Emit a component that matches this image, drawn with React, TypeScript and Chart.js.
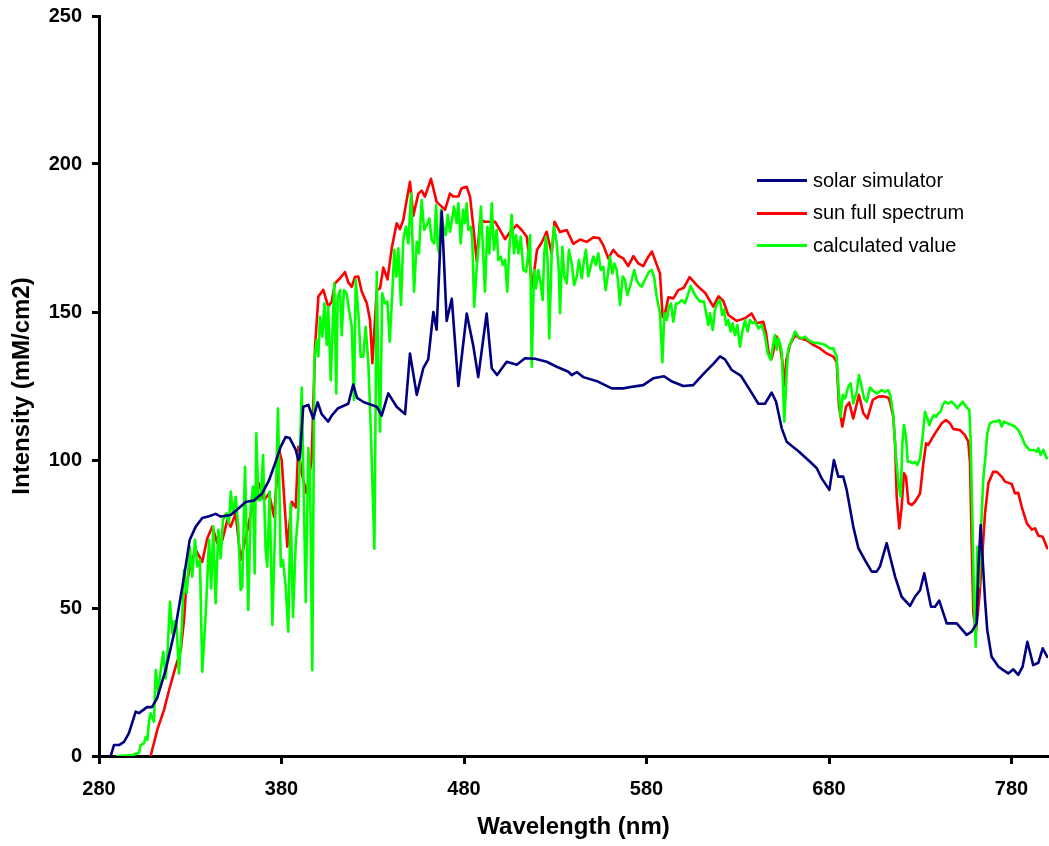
import React, { useEffect, useRef } from "react";
import { Chart, registerables } from "chart.js";

Chart.register(...registerables);

// Axis ticks
const xTicks = [280, 380, 480, 580, 680, 780];
const yTicks = [0, 50, 100, 150, 200, 250];

// [wavelength (nm), intensity (mM/cm2)]
const solarSimulator: [number, number][] = [
  [286.4, 0], [288.2, 3.7], [291.0, 3.7], [293.7, 4.8], [296.4, 7.7], [300.1, 15], [301.9, 14.5],
  [306.3, 16.5], [309.0, 16.5], [311.8, 19.5], [316.5, 29], [322.0, 43.7], [326.6, 60.6], [329.7, 73],
  [333.0, 77.5], [336.6, 80.4], [340.3, 81], [343.9, 81.8], [346.7, 80.9], [352.2, 81.4], [356.7, 83.8],
  [360.4, 85.8], [364.9, 86.3], [369.5, 88.8], [373.2, 93.2], [376.8, 99.4], [379.6, 104.5], [382.3, 107.8],
  [384.5, 107.4], [387.8, 103.4], [389.2, 100], [390.1, 101], [391.9, 118], [394.7, 118.6], [397.4, 114],
  [399.8, 119.5], [402.0, 115.5], [405.6, 113], [407.5, 115], [411.0, 117.5], [416.6, 119], [419.3, 125.5],
  [421.4, 121], [425.2, 119.5], [432.2, 118], [434.9, 115], [438.5, 122.5], [443.1, 118], [447.7, 115.5],
  [450.4, 136], [454.1, 122], [457.7, 131], [460.4, 134], [463.2, 150], [465.0, 144], [467.8, 184],
  [470.5, 147], [473.3, 154.5], [476.9, 125], [481.5, 149.5], [485.1, 138.5], [487.8, 128], [492.4, 149.5],
  [495.2, 131], [498.1, 128.7], [503.4, 133.2], [508.9, 132.2], [513.4, 134.4], [518.9, 134.2], [525.3, 133.2],
  [530.8, 131.5], [537.2, 129.8], [539.0, 128.7], [541.8, 129.7], [545.4, 128], [553.4, 126.5], [560.9, 124.2],
  [567.3, 124.2], [572.8, 124.8], [578.2, 125.3], [583.7, 127.6], [589.6, 128.3], [594.0, 126.5], [600.2, 125],
  [605.6, 125.3], [611.1, 129], [616.6, 132.5], [620.3, 135], [623.0, 134], [626.7, 130.4], [631.8, 128.4],
  [636.7, 123.6], [641.3, 119], [644.9, 119], [648.6, 122.8], [651.0, 119.7], [654.1, 110.7], [656.8, 106.2],
  [663.6, 102.8], [669.6, 99.4], [673.3, 97.2], [676.0, 93.8], [680.2, 89.9], [682.7, 100], [685.1, 94.4],
  [687.8, 94.4], [689.7, 89.9], [693.3, 77.5], [696.1, 70.2], [699.7, 66.2], [703.4, 62.3], [706.1, 62.3],
  [707.9, 64], [711.6, 71.9], [716.2, 60.6], [719.8, 53.8], [724.4, 50.7], [727.1, 53.8], [729.9, 56],
  [732.2, 61.7], [735.9, 50.4], [738.1, 50.4], [740.4, 52.5], [744.5, 44.8], [750.0, 44.8], [755.4, 40.9],
  [758.2, 42], [760.9, 44.8], [761.8, 62.8], [763.1, 78], [765.5, 52.7], [766.7, 42.6], [769.1, 33.5],
  [772.8, 30.2], [775.5, 29], [778.2, 27.9], [781.0, 29.3], [783.7, 27.4], [786.1, 30.2], [788.7, 38.6],
  [791.9, 30.7], [794.7, 31.5], [797.1, 36.4], [799.6, 33.5],
];

const sunFullSpectrum: [number, number][] = [
  [308.3, 0], [311.9, 8.8], [315.6, 15.5], [318.4, 22.3], [322.0, 30.2], [324.8, 35.8], [326.6, 46],
  [327.8, 57.2], [330.2, 65.1], [333.0, 69.6], [336.6, 65.6], [339.3, 73.5], [342.1, 77.5], [344.8, 71.9],
  [347.6, 73], [350.3, 79.7], [352.2, 77.5], [354.9, 82], [357.6, 66.2], [361.3, 76.4], [365.9, 89.9],
  [367.7, 92.1], [370.4, 86.5], [373.2, 88.7], [375.9, 80.8], [378.6, 103.4], [380.1, 100], [383.2, 70.7],
  [385.6, 85.9], [387.8, 84], [389.2, 104.5], [391.1, 95.5], [393.8, 88.7], [396.5, 100], [398.4, 138.3],
  [400.2, 155.2], [402.9, 157.5], [405.6, 151.8], [407.5, 153.5], [409.3, 159.7], [412.1, 161.4], [414.8, 163.5],
  [416.6, 160], [418.5, 158.5], [420.3, 161.9], [422.1, 162], [423.9, 157], [426.7, 153], [428.5, 147.3],
  [429.8, 132.7], [432.2, 157.4], [434.0, 158], [435.8, 165], [438.1, 161], [440.4, 171.5], [443.1, 180],
  [444.9, 178], [446.7, 181], [448.6, 187.8], [450.4, 194], [452.2, 182.5], [455.0, 190], [456.8, 191],
  [458.6, 189], [461.9, 195], [465.0, 187.2], [467.8, 185.6], [469.6, 184.5], [472.3, 190], [474.1, 189],
  [476.9, 189], [478.7, 191.8], [481.5, 192.3], [483.3, 189], [485.1, 178.8], [487.0, 167], [488.8, 181],
  [491.5, 180.5], [494.2, 180.5], [497.0, 180.5], [499.7, 177.7], [502.5, 174.6], [505.2, 177], [508.9, 179.4],
  [511.6, 177.7], [514.4, 175.4], [515.2, 171], [517.4, 158.6], [520.0, 171], [522.6, 173.5], [525.3, 177.1],
  [528.1, 169.6], [529.6, 180.5], [532.6, 177], [536.3, 177.7], [539.9, 173], [543.6, 174.5], [547.2, 173.7],
  [550.9, 175.2], [554.0, 175], [556.3, 172.6], [559.1, 168.1], [561.8, 171], [564.5, 169], [567.3, 168.1],
  [570.0, 165.5], [572.8, 168.9], [575.5, 166.4], [578.2, 165.5], [581.0, 168.7], [583.0, 170.4], [585.6, 166],
  [587.4, 163], [588.8, 148.5], [589.6, 147.9], [592.0, 155], [594.7, 154.6], [597.4, 157.4], [600.5, 158.2],
  [603.6, 161.8], [607.5, 159.1], [609.3, 158], [612.1, 156.5], [616.6, 151.8], [619.4, 155.3], [622.1, 153.7],
  [624.8, 149], [629.4, 147], [634.0, 147.9], [637.6, 149.5], [640.4, 146.2], [644.0, 146.7], [645.5, 143],
  [646.8, 136.6], [648.6, 134.3], [651.4, 141.7], [653.2, 138.3], [654.5, 133], [655.5, 125], [656.7, 134],
  [658.6, 138.9], [661.4, 142.2], [664.1, 141.1], [667.8, 140.5], [671.4, 138.9], [675.1, 137.7], [678.7, 136],
  [682.4, 134.9], [684.2, 133.2], [685.5, 118], [687.3, 111.3], [689.3, 118], [691.1, 119.4], [693.3, 114],
  [696.4, 122], [698.8, 115.8], [701.0, 114], [704.0, 120.3], [707.0, 121.4], [710.1, 121.5], [712.5, 121],
  [713.4, 119.7], [715.2, 114.6], [716.2, 105.6], [717.1, 87.6], [718.5, 76.9], [719.8, 84.2], [721.1, 95.5],
  [722.2, 94.4], [723.5, 85.4], [725.3, 84.8], [727.1, 85.9], [729.9, 88.7], [731.7, 98.9], [733.2, 105.6],
  [734.4, 105.1], [738.1, 109], [741.8, 112.4], [744.1, 113.5], [746.3, 112.4], [748.1, 110.5], [751.8, 110.1],
  [754.5, 108.4], [756.3, 106.2], [757.3, 98.9], [758.2, 70.7], [759.1, 48.2], [760.5, 42], [762.4, 53.8],
  [763.7, 65.1], [765.5, 82], [767.3, 92.1], [770.0, 96], [771.9, 96], [774.6, 94.4], [776.4, 92.7],
  [780.1, 91.9], [781.9, 88.7], [783.7, 88.9], [785.6, 84.2], [788.4, 78.6], [791.1, 76.5], [792.9, 76.9],
  [794.7, 74.4], [797.1, 74.1], [799.6, 70.2],
];

const calculatedValue: [number, number][] = [
  [290.0, 0], [298.2, 0.3], [301.9, 1], [302.8, 3.7], [304.7, 4.3], [305.6, 6.5], [306.5, 5.4], [307.4, 11.6],
  [308.3, 14.4], [310.1, 11.6], [311.1, 29], [312.5, 21.2], [313.8, 29], [315.2, 35.2], [316.5, 26.2],
  [317.4, 33], [318.9, 52.1], [320.2, 41.4], [321.1, 45.4], [322.4, 45.4], [323.8, 27.9], [325.3, 42.6],
  [326.6, 62.8], [328.1, 55], [329.7, 70.7], [331.1, 60.6], [332.6, 73], [333.9, 64], [335.3, 66.2],
  [336.6, 28.5], [338.5, 48.2], [340.3, 73], [341.5, 56.6], [342.6, 77.5], [343.9, 51.6], [345.4, 76.4],
  [346.7, 66.8], [347.9, 79.7], [349.8, 82], [351.2, 78.6], [352.2, 89.3], [353.4, 82], [354.9, 87.6],
  [356.3, 77.5], [357.6, 56.1], [358.5, 57.2], [360.0, 97.7], [361.8, 49.3], [363.1, 84.2], [364.4, 91],
  [365.3, 61.7], [366.2, 109], [367.3, 86.5], [368.6, 86.5], [369.9, 101.7], [371.3, 69.6], [372.2, 64],
  [373.5, 89.3], [375.0, 44.3], [376.4, 75.2], [378.1, 117.4], [379.6, 64], [380.8, 66.2], [382.3, 57.2],
  [383.7, 42], [385.0, 85.1], [386.3, 47], [387.8, 71.9], [389.2, 82], [391.1, 124.5], [393.3, 52],
  [394.7, 104], [395.6, 96], [396.9, 29], [398.0, 133.8], [399.3, 140.5], [400.2, 135], [401.1, 148.4],
  [402.4, 141.7], [403.5, 152.9], [404.8, 138.9], [405.6, 151.8], [407.0, 127], [408.1, 146.2], [408.9, 159.7],
  [410.0, 122.5], [410.8, 155.2], [412.1, 157.4], [413.0, 142.2], [414.2, 157.4], [415.7, 156.3], [417.0, 150.7],
  [418.5, 145], [419.7, 120.3], [420.7, 160.8], [422.1, 149.6], [423.4, 134.9], [424.8, 134.9], [426.1, 145],
  [427.6, 132.7], [429.0, 109], [430.9, 70], [432.2, 163.5], [433.0, 131.5], [434.0, 109.6], [435.2, 156.3],
  [436.7, 152.9], [438.0, 153.5], [439.3, 140], [440.7, 156.3], [441.8, 171], [442.9, 161.9], [444.0, 171.5],
  [445.5, 152.4], [446.7, 174.3], [448.1, 178.8], [449.5, 173.2], [451.0, 190], [452.6, 156.9], [454.1, 173.7],
  [455.3, 169.8], [456.8, 187.8], [458.2, 177.7], [459.6, 179.4], [461.0, 181.6], [462.3, 174.3], [463.7, 173.2],
  [464.7, 186.1], [465.6, 172], [466.5, 169.8], [467.4, 184.5], [468.7, 178.8], [470.0, 176], [471.1, 182.8],
  [472.3, 177.1], [473.3, 180.5], [474.5, 185.6], [476.0, 180], [476.9, 186.7], [478.2, 173.2], [479.5, 184.5],
  [480.5, 180], [481.5, 186.7], [482.4, 177.7], [483.7, 178.8], [484.5, 174.9], [485.6, 151.8], [487.0, 165.3],
  [488.2, 173.7], [489.3, 185.6], [491.5, 156.9], [492.8, 178.8], [493.9, 169.8], [495.2, 186.7], [496.4, 171],
  [497.9, 177.7], [498.8, 167.6], [500.1, 168.7], [501.2, 165.9], [502.5, 167.6], [503.7, 156.9], [504.8, 171],
  [506.1, 182.8], [507.4, 169.8], [508.5, 176], [509.8, 169.8], [511.1, 175.4], [512.5, 164.2], [514.0, 163.6],
  [515.2, 169.8], [516.2, 176], [517.1, 131.5], [518.4, 164.2], [519.5, 158], [520.7, 164.2], [522.0, 159.7],
  [523.1, 154], [524.0, 169.8], [524.9, 175.4], [525.9, 166.4], [526.7, 141.1], [528.1, 171], [529.3, 178.8],
  [530.8, 173.2], [531.9, 164.2], [532.6, 149.6], [533.9, 172], [535.0, 162], [536.3, 159.7], [537.5, 171],
  [539.0, 166.4], [540.4, 159.1], [541.8, 162], [543.0, 167.6], [544.5, 161.4], [545.8, 167.6], [546.8, 171],
  [548.1, 162], [549.4, 165.3], [550.9, 168.7], [552.2, 165.9], [553.6, 169.8], [554.9, 164.2], [556.3, 165.3],
  [557.6, 157.4], [558.7, 162], [560.0, 168.7], [561.3, 163], [562.4, 166.4], [563.7, 164.2], [564.5, 159.7],
  [565.5, 152.4], [567.0, 162], [568.2, 160.8], [569.5, 155.7], [571.0, 158.6], [572.4, 162], [573.3, 164.2],
  [574.6, 160.8], [576.1, 159.1], [577.4, 158.6], [578.6, 160.2], [580.1, 162], [581.4, 163.6], [582.8, 164.2],
  [584.1, 162], [585.6, 155.2], [587.4, 149.6], [588.7, 133], [589.8, 149.6], [591.1, 147.3], [592.3, 151.8],
  [593.4, 152.9], [594.7, 146.7], [596.2, 152.9], [597.4, 152.9], [599.3, 154], [601.1, 152.9], [602.9, 156.3],
  [604.2, 158.8], [606.6, 155.7], [609.3, 153.5], [611.5, 153.5], [613.0, 148.4], [613.9, 145.6], [614.8, 149.6],
  [616.3, 143.9], [617.5, 150.7], [618.8, 152.9], [620.3, 154], [621.5, 149], [622.5, 150.7], [623.6, 145.6],
  [624.8, 147.3], [626.1, 143.4], [627.2, 146.2], [628.5, 142.2], [629.8, 145.6], [631.2, 138.3], [632.7, 143.9],
  [634.0, 147.3], [635.4, 143.4], [636.7, 147.3], [638.2, 146.2], [639.5, 146.7], [641.3, 144.5], [643.1, 145.6],
  [644.9, 142], [646.4, 136.1], [648.1, 133.8], [649.5, 139.4], [650.4, 142.2], [651.4, 137.2], [652.2, 141.1],
  [653.2, 139.4], [654.2, 136.1], [655.5, 113], [656.8, 129.3], [657.7, 137.7], [659.6, 140.5], [661.4, 143.4],
  [663.2, 141.7], [665.1, 141.1], [666.9, 141.7], [668.7, 140.5], [671.4, 139.7], [675.1, 139.4], [677.8, 138.9],
  [680.5, 137.7], [682.4, 137.7], [684.2, 134.9], [685.5, 121.4], [686.4, 114.6], [687.5, 122], [688.8, 120.8],
  [690.6, 124.8], [691.9, 125.9], [693.3, 119.1], [695.2, 123], [696.4, 128.7], [697.9, 124.8], [699.2, 120.8],
  [700.7, 119.7], [702.5, 124.5], [704.3, 123.3], [706.2, 122.5], [708.9, 123.6], [710.7, 123], [712.5, 123.6],
  [713.8, 121.4], [715.2, 115.2], [716.7, 101.1], [718.0, 92.1], [719.3, 87.6], [720.2, 105.6], [721.1, 111.8],
  [722.2, 107.9], [723.1, 99.4], [724.4, 99.4], [725.9, 98.9], [727.1, 99.4], [728.4, 98.3], [729.9, 100.6],
  [731.1, 106.8], [732.6, 116.3], [733.9, 114], [735.0, 111.8], [736.3, 114], [737.5, 115.2], [738.6, 114.6],
  [739.9, 115.8], [741.2, 116.3], [742.3, 118.6], [743.6, 119.7], [745.4, 119.1], [747.2, 119.7], [749.0, 118.6],
  [750.3, 117.5], [751.8, 118.6], [753.3, 119.7], [755.1, 118], [756.9, 116.9], [757.6, 106.8], [758.5, 82],
  [759.5, 51.6], [760.4, 36.9], [761.3, 70.7], [762.2, 57.2], [763.3, 76.4], [764.5, 93.2], [765.9, 102.3],
  [766.7, 109], [768.2, 112.4], [770.0, 113], [771.9, 113], [773.3, 113.5], [774.6, 111.3], [775.9, 113],
  [777.7, 112.4], [780.1, 111.8], [781.9, 111.3], [783.7, 110.1], [785.6, 107.9], [787.4, 105.1], [789.8, 103.4],
  [792.0, 103.4], [793.8, 102.8], [794.7, 103.9], [796.0, 101.7], [797.5, 103.4], [799.3, 100.6],
];

const seriesNames = ["solar simulator", "sun full spectrum", "calculated value"];
const seriesColors = ["#000080", "#ff0000", "#00ff00"];

const FONT = "'Liberation Sans', Arial, Helvetica, sans-serif";
const WIDTH = 1049;
const HEIGHT = 846;

const toPoints = (rows: [number, number][]) => rows.map(([x, y]) => ({ x, y }));

export default function App() {
  const canvasRef = useRef<HTMLCanvasElement>(null);

  useEffect(() => {
    const canvas = canvasRef.current;
    if (!canvas) return;
    const seriesData = [solarSimulator, sunFullSpectrum, calculatedValue];
    // blue drawn on top, then green, red underneath
    const drawOrder = [1, 3, 2];

    const chart = new Chart(canvas, {
      type: "line",
      data: {
        datasets: seriesData.map((rows, i) => ({
          label: seriesNames[i],
          data: toPoints(rows),
          borderColor: seriesColors[i],
          backgroundColor: seriesColors[i],
          borderWidth: 2.6,
          pointRadius: 0,
          fill: false,
          tension: 0,
          order: drawOrder[i],
        })),
      },
      options: {
        animation: false,
        responsive: false,
        maintainAspectRatio: false,
        layout: { padding: { top: 16, right: 1, left: 0, bottom: 0 } },
        plugins: { legend: { display: false }, tooltip: { enabled: false } },
        elements: { line: { borderJoinStyle: "round", borderCapStyle: "round" } },
        scales: {
          x: {
            type: "linear",
            min: 280,
            max: 800,
            afterBuildTicks: (scale: any) => {
              scale.ticks = xTicks.map((v) => ({ value: v }));
            },
            afterFit: (scale: any) => {
              scale.height = 90;
              scale.paddingLeft = 0;
              scale.paddingRight = 0;
            },
            border: { display: true, color: "#000", width: 3 },
            grid: {
              display: true,
              drawOnChartArea: false,
              drawTicks: true,
              tickLength: 8,
              tickWidth: 3,
              tickColor: "#000",
            },
            ticks: {
              color: "#000",
              font: { family: FONT, size: 20, weight: "bold" },
              padding: 13,
              maxRotation: 0,
              autoSkip: false,
            },
            title: {
              display: true,
              text: "Wavelength (nm)",
              color: "#000",
              font: { family: FONT, size: 24, weight: "bold" },
              padding: { top: 0, bottom: 4 },
            },
          },
          y: {
            type: "linear",
            min: 0,
            max: 250,
            afterBuildTicks: (scale: any) => {
              scale.ticks = yTicks.map((v) => ({ value: v }));
            },
            afterFit: (scale: any) => {
              scale.width = 99;
              scale.paddingTop = 0;
              scale.paddingBottom = 0;
            },
            border: { display: true, color: "#000", width: 3 },
            grid: {
              display: true,
              drawOnChartArea: false,
              drawTicks: true,
              tickLength: 7,
              tickWidth: 3,
              tickColor: "#000",
            },
            ticks: {
              color: "#000",
              font: { family: FONT, size: 20, weight: "bold" },
              padding: 10,
            },
            title: {
              display: true,
              text: "Intensity (mM/cm2)",
              color: "#000",
              font: { family: FONT, size: 24, weight: "bold" },
              padding: { top: 8, bottom: 0 },
            },
          },
        },
      },
    });
    return () => chart.destroy();
  }, []);

  const legendLeft = 757;
  const legendTop = 180.7;
  const legendStep = 32.5;

  return (
    <div style={{ position: "fixed", left: 0, top: 0, width: WIDTH, height: HEIGHT, background: "#fff" }}>
      <canvas ref={canvasRef} width={WIDTH} height={HEIGHT} style={{ display: "block", width: WIDTH, height: HEIGHT }} />
      {seriesNames.map((name, i) => (
        <React.Fragment key={name}>
          <div
            style={{
              position: "absolute",
              left: legendLeft,
              top: legendTop + i * legendStep - 1.5,
              width: 50,
              height: 3,
              background: seriesColors[i],
            }}
          />
          <div
            style={{
              position: "absolute",
              left: legendLeft + 56,
              top: legendTop + i * legendStep - 12.9,
              fontFamily: FONT,
              fontSize: 20,
              lineHeight: "24px",
              color: "#000",
              whiteSpace: "nowrap",
            }}
          >
            {name}
          </div>
        </React.Fragment>
      ))}
    </div>
  );
}
